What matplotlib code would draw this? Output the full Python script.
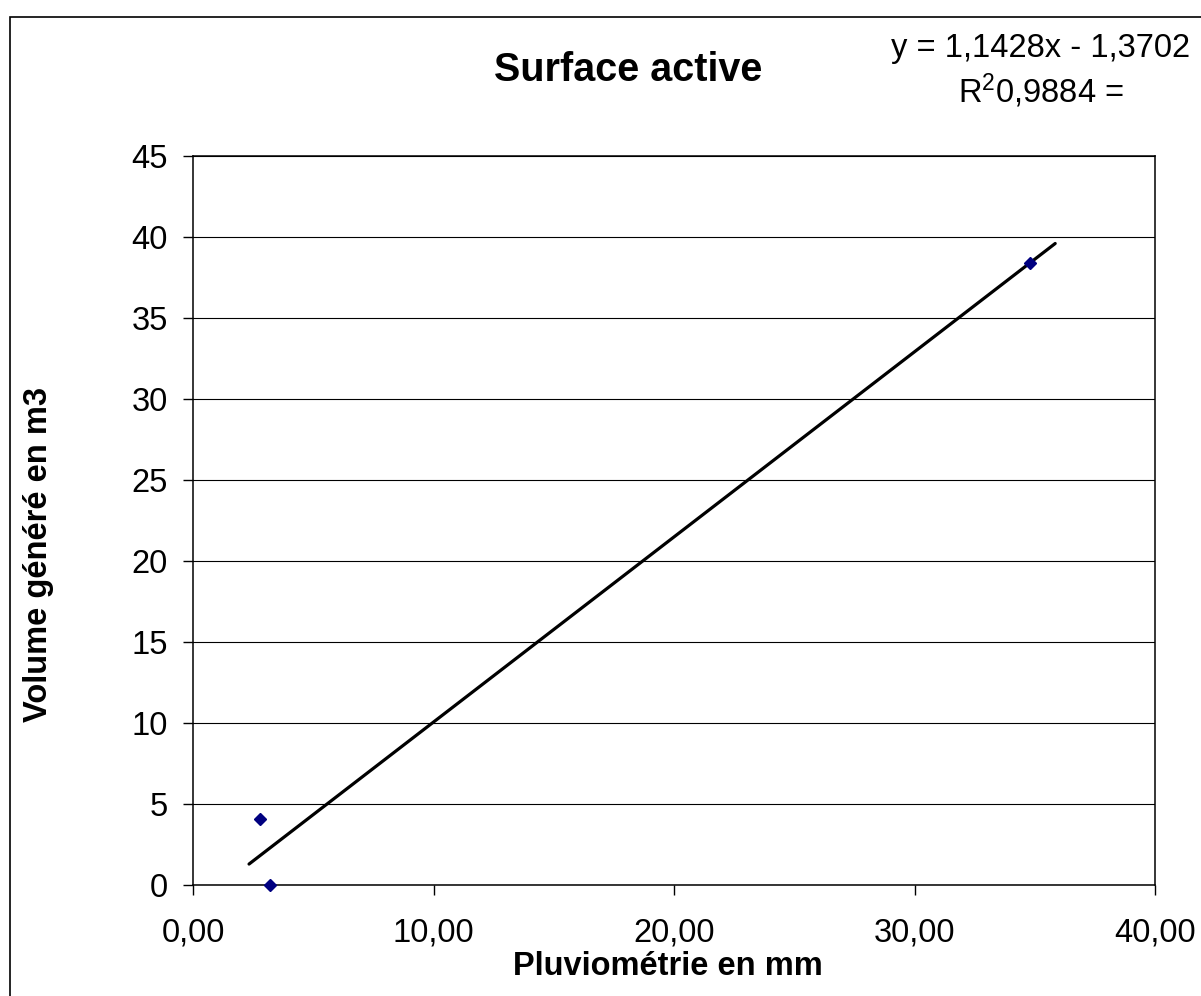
import matplotlib
matplotlib.use("Agg")
import matplotlib.pyplot as plt
from matplotlib.patches import Rectangle
from matplotlib.ticker import FuncFormatter, MultipleLocator

plt.rcParams['font.family'] = ['Liberation Sans', 'DejaVu Sans']
plt.rcParams['mathtext.default'] = 'regular'

# Measurements
pluviometrie = [2.8, 3.2, 34.8]      # mm
volume = [4.07, 0.0, 38.4]           # m3

# Linear trend
slope = 1.1428
intercept = -1.3702
r2 = 0.9884
trend_x = [2.33, 35.85]
trend_y = [slope * v + intercept for v in trend_x]

W, H = 1201, 996
fig = plt.figure(figsize=(W / 100, H / 100), dpi=100)

# outer chart frame
fig.patches.append(Rectangle((10 / W, -0.05), 1.2, (H - 17) / H + 0.05,
                             transform=fig.transFigure, fill=False,
                             edgecolor='black', linewidth=1.2))

ax = fig.add_axes([193 / W, 1 - 885 / H, (1155 - 193) / W, (885 - 156) / H])

ax.set_xlim(0, 40)
ax.set_ylim(0, 45)
ax.xaxis.set_major_locator(MultipleLocator(10))
ax.yaxis.set_major_locator(MultipleLocator(5))
ax.xaxis.set_major_formatter(FuncFormatter(lambda v, p: f"{v:.2f}".replace('.', ',')))
ax.yaxis.set_major_formatter(FuncFormatter(lambda v, p: f"{v:.0f}"))

ax.grid(axis='y', color='black', linewidth=0.8)
ax.set_axisbelow(True)
for s in ax.spines.values():
    s.set_color('black')
    s.set_linewidth(1.1)

ax.tick_params(direction='out', length=7, width=1.0, labelsize=23.5, colors='black')
ax.tick_params(axis='y', pad=11)
ax.tick_params(axis='x', pad=16.5)

ax.plot(trend_x, trend_y, color='black', linewidth=2.3, solid_capstyle='round', zorder=3)
ax.plot(pluviometrie, volume, linestyle='none', marker='D', markersize=6.2,
        color='#000080', zorder=4, clip_on=False)

fig.text(628 / W, 1 - 70 / H, "Surface active", ha='center', va='center',
         fontsize=28.5, fontweight='bold')
fig.text(1041 / W, 1 - 49 / H, f"y = {slope:.4f}x - {abs(intercept):.4f}".replace('.', ','),
         ha='center', va='center', fontsize=23.5)
fig.text(1041 / W, 1 - 91 / H, "R$^2$" + f"{r2:.4f} =".replace('.', ','),
         ha='center', va='center', fontsize=23.5)

fig.text(668 / W, 1 - 966 / H, "Pluviométrie en mm", ha='center', va='center',
         fontsize=23.5, fontweight='bold')
fig.text(39 / W, 1 - 554 / H, "Volume généré en m3", ha='center', va='center',
         rotation=90, fontsize=23.5, fontweight='bold')

fig.savefig("out.png", dpi=100)
